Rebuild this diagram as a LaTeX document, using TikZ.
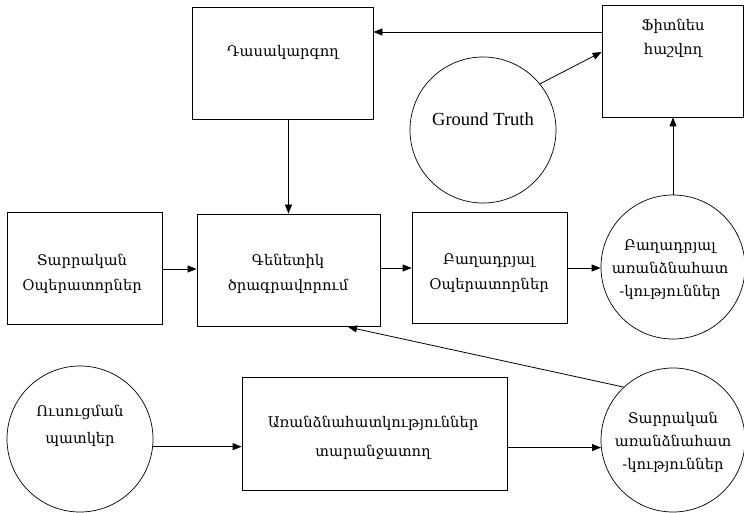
\documentclass[tikz,border=0pt]{standalone}
\usepackage{fontspec}
\setmainfont{Liberation Serif}
\newfontfamily\arm{DejaVu Serif}
\usetikzlibrary{arrows.meta,calc}
\begin{document}
\begin{tikzpicture}[x=1pt,y=-1pt,
  box/.style={draw,line width=0.8pt,inner sep=0pt},
  circ/.style={draw,circle,line width=0.7pt,inner sep=0pt,minimum size=146pt},
  txt/.style={font=\arm\fontsize{14.7}{25}\selectfont,align=center,inner sep=0pt},
  ctxt/.style={font=\arm\fontsize{14.7}{23}\selectfont,align=center,inner sep=0pt},
  arr/.style={line width=0.8pt,-{Triangle[length=9pt,width=7pt]}}]
\useasboundingbox (0,0) rectangle (744,513);
% boxes
\node[box,minimum width=181pt,minimum height=112pt] (cls) at (282.5,63) {};
\node[txt] (clsT) at (283,52) {Դասակարգող};
\node[box,minimum width=141pt,minimum height=112pt] (fit) at (672.5,61) {};
\node[txt,font=\arm\fontsize{14.7}{24}\selectfont] (fitT) at (673,38) {Ֆիտնես\\հաշվող};
\node[circ] (gt) at (483,130) {};
\node[font=\fontsize{18.5}{20}\selectfont,inner sep=0pt] (gtT) at (483,119) {Ground Truth};
\node[box,minimum width=155pt,minimum height=112pt] (elemop) at (84.5,268) {};
\node[txt] (elemopT) at (82,274) {Տարրական\\Օպերատորներ};
\node[box,minimum width=183pt,minimum height=112pt] (gp) at (288.5,270) {};
\node[txt] (gpT) at (288,273.5) {Գենետիկ\\ծրագրավորում};
\node[box,minimum width=155pt,minimum height=111pt] (compop) at (489.5,267.5) {};
\node[txt] (compopT) at (489,273) {Բաղադրյալ\\Օպերատորներ};
\node[circ,minimum size=144pt] (compf) at (673,267) {};
\node[ctxt] (compfT) at (670,270) {Բաղադրյալ\\առանձնահատ\\-կություններ};
\node[circ] (train) at (80,439) {};
\node[txt,font=\arm\fontsize{14.7}{27}\selectfont] (trainT) at (80,426) {Ուսուցման\\պատկեր};
\node[box,minimum width=265pt,minimum height=113pt] (fe) at (374.5,433.5) {};
\node[txt,font=\arm\fontsize{14.7}{29}\selectfont] (feT) at (373,438) {Առանձնահատկություններ\\տարանջատող};
\node[circ,minimum size=144pt] (elemf) at (673,440) {};
\node[ctxt] (elemfT) at (673,442) {Տարրական\\առանձնահատ\\-կություններ};
\coordinate (gpin) at (348,327);
% connectors
\draw[arr] (fit.west |- 0,32) -- (cls.east |- 0,32);
\draw[arr] (gt.39) -- (fit.west |- 0,52);
\draw[arr] (gp.north |- cls.south) -- (gp.north);
\draw[arr] (elemop.east |- 0,269) -- (gp.west |- 0,269);
\draw[arr] (gp.east |- 0,268) -- (compop.west |- 0,268);
\draw[arr] (compop.east |- 0,268) -- (compf.west |- 0,268);
\draw[arr] (compf.north) -- (fit.south -| compf.north);
\draw[arr] (train.-6) -- (fe.west |- train.-6);
\draw[arr] (fe.east |- elemf.186) -- (elemf.186);
\draw[arr] (elemf.133) -- (gpin);
\end{tikzpicture}
\end{document}
